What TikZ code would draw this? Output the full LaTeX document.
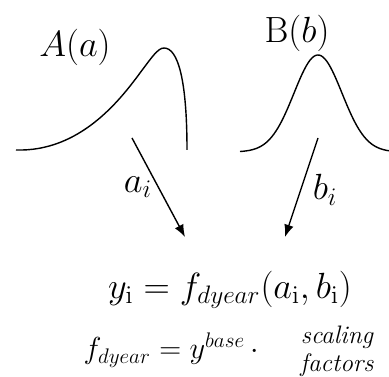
\documentclass[tikz,border=0pt]{standalone}
\usepackage{tikz}
\usetikzlibrary{calc,arrows.meta}

\begin{document}
\begin{tikzpicture}[x=0.02cm,y=-0.02cm]
\useasboundingbox (0,0) rectangle (389,377);

% distribution A (skewed)
\draw [thick] (16,150) .. controls (80,152) and (120,100) .. (140,73)
                       .. controls (152,57) and (158,48) .. (164,48)
                       .. controls (178,48) and (187,80) .. (187,150);
\node[outer sep=0pt] (distA) at (75,47) [] {\huge$A(a)$};

% distribution B (normal)
\draw [thick]  plot[domain=240:389, samples=80] (\x, {152-97*exp(-((\x-318)^2)/1152)});
\node[outer sep=0pt] (distB) at (297,33) [] {\huge$\mathrm{B}(b)$};

% draws
\coordinate (fromA) at (132,138);
\coordinate (toA) at (185,237);
\coordinate (fromB) at (318,138);
\coordinate (toB) at (285,237);

\draw [thick,-{Latex[length=7pt,width=5.5pt]}] (fromA)--(toA);
\draw [thick,-{Latex[length=7pt,width=5.5pt]}] (fromB)--(toB);

\node[outer sep=0pt] (ai) at (138,187) [] {\huge$a_i$};
\node[outer sep=0pt] (bi) at (325,190) [] {\huge$b_i$};

\node[outer sep=0pt] (model) at (230,290) [] {\huge$y_{\mathrm{i}} = f_{dyear}(a_{\mathrm{i}},b_{\mathrm{i}})$};

\node[outer sep=0pt] (fdyear) at (171,350) [] {\LARGE$f_{dyear} = y^{base}\,\cdot$};
\node[outer sep=0pt,align=center,font=\Large\itshape] (scal) at (337,351) [] {scaling\\[-2pt]factors};

\end{tikzpicture}
\end{document}
